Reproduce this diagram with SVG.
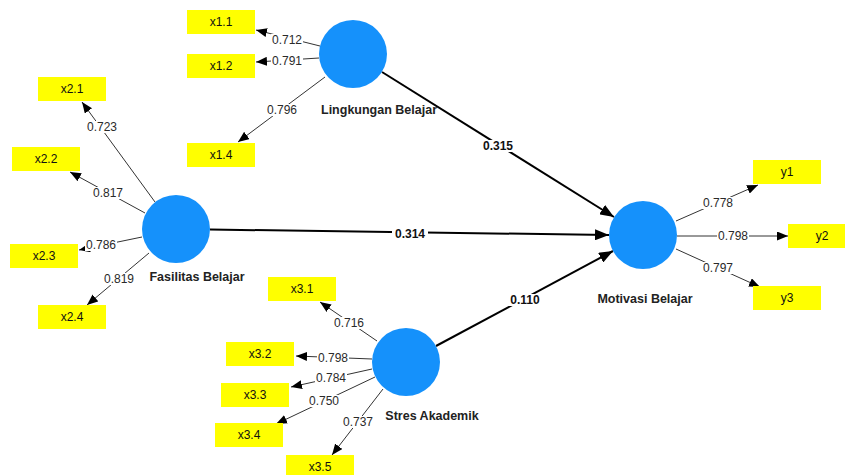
<svg xmlns="http://www.w3.org/2000/svg" width="845" height="475" viewBox="0 0 845 475">
<defs>
<style>
.box{fill:#FFFF00}
.bt{font-family:"Liberation Sans",Arial,sans-serif;font-size:12px;text-anchor:middle;fill:#111}
.ld{font-family:"Liberation Sans",Arial,sans-serif;font-size:12px;text-anchor:middle;fill:#2a2a2a}
.pc{font-family:"Liberation Sans",Arial,sans-serif;font-size:12px;font-weight:bold;text-anchor:middle;fill:#111}
.nm{font-family:"Liberation Sans",Arial,sans-serif;font-size:12.5px;font-weight:bold;text-anchor:middle;fill:#222}
.bg{fill:#fff}
.o{stroke:#333;stroke-width:1;fill:none;marker-end:url(#a)}
.i{stroke:#000;stroke-width:2;fill:none;marker-end:url(#b)}
.c{fill:#1591FB}
</style>
<marker id="a" markerUnits="userSpaceOnUse" markerWidth="11" markerHeight="9" viewBox="0 0 11 9" refX="11" refY="4.5" orient="auto"><path d="M0,0L11,4.5L0,9z" fill="#000"/></marker>
<marker id="b" markerUnits="userSpaceOnUse" markerWidth="14" markerHeight="11" viewBox="0 0 14 11" refX="14" refY="5.5" orient="auto"><path d="M0,0L14,5.5L0,11z" fill="#000"/></marker>
</defs>
<rect width="845" height="475" fill="#fff"/>
<g id="connectors">
<line class="i" x1="382" y1="72" x2="614" y2="217"/>
<line class="i" x1="210" y1="229.5" x2="609" y2="235"/>
<line class="i" x1="436" y1="346" x2="613" y2="251"/>
<line class="o" x1="320" y1="46" x2="256" y2="30"/>
<line class="o" x1="319" y1="58" x2="256" y2="62"/>
<line class="o" x1="325" y1="77" x2="238" y2="142"/>
<line class="o" x1="155" y1="202" x2="82" y2="102"/>
<line class="o" x1="145" y1="213" x2="70" y2="172"/>
<line class="o" x1="142" y1="237" x2="79" y2="250"/>
<line class="o" x1="149" y1="253" x2="87" y2="305"/>
<line class="o" x1="377" y1="341" x2="320" y2="302"/>
<line class="o" x1="372" y1="359" x2="296" y2="356"/>
<line class="o" x1="372" y1="369" x2="291" y2="387"/>
<line class="o" x1="375" y1="377" x2="276" y2="424"/>
<line class="o" x1="383" y1="389" x2="332" y2="455"/>
<line class="o" x1="676" y1="221" x2="758" y2="185"/>
<line class="o" x1="677" y1="236" x2="788" y2="236"/>
<line class="o" x1="676" y1="249" x2="760" y2="287"/>
<rect class="bg" x="480" y="140" width="36" height="12"/><text class="pc" x="498" y="150">0.315</text>
<rect class="bg" x="392" y="228" width="36" height="12"/><text class="pc" x="410" y="238">0.314</text>
<rect class="bg" x="507" y="294" width="36" height="12"/><text class="pc" x="525" y="304">0.110</text>
<rect class="bg" x="271" y="34" width="32" height="12"/><text class="ld" x="287" y="44">0.712</text>
<rect class="bg" x="271" y="55" width="32" height="12"/><text class="ld" x="287" y="65">0.791</text>
<rect class="bg" x="266" y="104" width="32" height="12"/><text class="ld" x="282" y="114">0.796</text>
<rect class="bg" x="86" y="121" width="32" height="12"/><text class="ld" x="102" y="131">0.723</text>
<rect class="bg" x="92" y="187" width="32" height="12"/><text class="ld" x="108" y="197">0.817</text>
<rect class="bg" x="85" y="239" width="32" height="12"/><text class="ld" x="101" y="249">0.786</text>
<rect class="bg" x="103" y="273" width="32" height="12"/><text class="ld" x="119" y="283">0.819</text>
<rect class="bg" x="333" y="317" width="32" height="12"/><text class="ld" x="349" y="327">0.716</text>
<rect class="bg" x="317" y="352" width="32" height="12"/><text class="ld" x="333" y="362">0.798</text>
<rect class="bg" x="315" y="372" width="32" height="12"/><text class="ld" x="331" y="382">0.784</text>
<rect class="bg" x="308" y="395" width="32" height="12"/><text class="ld" x="324" y="405">0.750</text>
<rect class="bg" x="342" y="416" width="32" height="12"/><text class="ld" x="358" y="426">0.737</text>
<rect class="bg" x="702" y="197" width="32" height="12"/><text class="ld" x="718" y="207">0.778</text>
<rect class="bg" x="717" y="230" width="32" height="12"/><text class="ld" x="733" y="240">0.798</text>
<rect class="bg" x="702" y="262" width="32" height="12"/><text class="ld" x="718" y="272">0.797</text>
</g>
<g id="lingkungan"><circle class="c" cx="353" cy="54" r="34"/><text class="nm" x="379" y="114">Lingkungan Belajar</text></g>
<g id="fasilitas"><circle class="c" cx="176" cy="229" r="34"/><text class="nm" x="197" y="281">Fasilitas Belajar</text></g>
<g id="stres"><circle class="c" cx="406" cy="362" r="34"/><text class="nm" x="432" y="420">Stres Akademik</text></g>
<g id="motivasi"><circle class="c" cx="643" cy="235" r="34"/><text class="nm" x="645" y="303">Motivasi Belajar</text></g>
<g id="x1.1"><rect class="box" x="187" y="10" width="68" height="24"/><text class="bt" x="221" y="26">x1.1</text></g>
<g id="x1.2"><rect class="box" x="187" y="54" width="68" height="24"/><text class="bt" x="221" y="70">x1.2</text></g>
<g id="x1.4"><rect class="box" x="187" y="143" width="68" height="24"/><text class="bt" x="221" y="159">x1.4</text></g>
<g id="x2.1"><rect class="box" x="38" y="77" width="68" height="24"/><text class="bt" x="72" y="93">x2.1</text></g>
<g id="x2.2"><rect class="box" x="12" y="147" width="68" height="24"/><text class="bt" x="46" y="163">x2.2</text></g>
<g id="x2.3"><rect class="box" x="10" y="244" width="68" height="24"/><text class="bt" x="44" y="260">x2.3</text></g>
<g id="x2.4"><rect class="box" x="38" y="305" width="68" height="24"/><text class="bt" x="72" y="321">x2.4</text></g>
<g id="x3.1"><rect class="box" x="268" y="277" width="68" height="24"/><text class="bt" x="302" y="293">x3.1</text></g>
<g id="x3.2"><rect class="box" x="226" y="342" width="68" height="24"/><text class="bt" x="260" y="358">x3.2</text></g>
<g id="x3.3"><rect class="box" x="221" y="383" width="68" height="24"/><text class="bt" x="255" y="399">x3.3</text></g>
<g id="x3.4"><rect class="box" x="215" y="423" width="68" height="24"/><text class="bt" x="249" y="439">x3.4</text></g>
<g id="x3.5"><rect class="box" x="286" y="455" width="68" height="24"/><text class="bt" x="320" y="471">x3.5</text></g>
<g id="y1"><rect class="box" x="753" y="160" width="68" height="24"/><text class="bt" x="787" y="176">y1</text></g>
<g id="y2"><rect class="box" x="788" y="224" width="68" height="24"/><text class="bt" x="822" y="240">y2</text></g>
<g id="y3"><rect class="box" x="753" y="286" width="68" height="24"/><text class="bt" x="787" y="302">y3</text></g>
</svg>
